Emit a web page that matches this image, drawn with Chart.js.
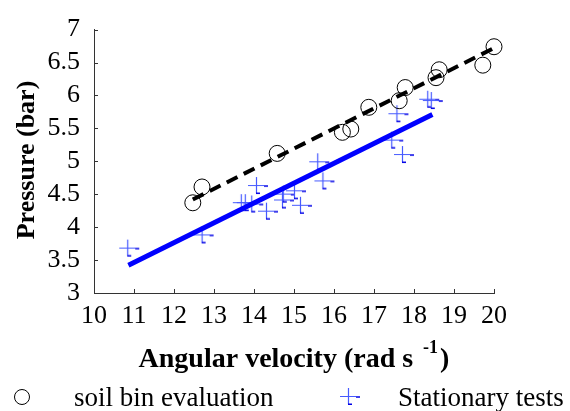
<!DOCTYPE html>
<html>
<head>
<meta charset="utf-8">
<script src="https://cdn.jsdelivr.net/npm/chart.js@4/dist/chart.umd.min.js"></script>
<style>
html,body{margin:0;padding:0;background:#fff;}
#wrap{width:570px;height:411px;position:relative;}
</style>
</head>
<body>
<div id="wrap"><canvas id="c" width="570" height="411"></canvas></div>
<script>
// ---- data ----
const soilX = [12.47, 12.70, 14.58, 16.21, 16.42, 16.87, 17.63, 17.78, 18.55, 18.63, 19.72, 20.00];
const soilY = [4.37, 4.61, 5.12, 5.44, 5.49, 5.82, 5.92, 6.12, 6.27, 6.39, 6.46, 6.74];
const statX = [10.83, 12.69, 13.67, 13.77, 13.93, 14.05, 14.30, 14.70, 14.72, 15.00, 15.15, 15.58, 15.71, 17.43, 17.56, 17.70, 18.33, 18.42];
const statY = [3.69, 3.89, 4.38, 4.38, 4.36, 4.64, 4.25, 4.42, 4.51, 4.56, 4.34, 5.00, 4.71, 5.33, 5.73, 5.11, 5.95, 5.93];
const soilFitX = [12.47, 20.00];
const soilFitY = [4.42, 6.72];
const statFitX = [10.86, 18.46];
const statFitY = [3.42, 5.71];
const xTicks = [10, 11, 12, 13, 14, 15, 16, 17, 18, 19, 20];
const yTicks = [3, 3.5, 4, 4.5, 5, 5.5, 6, 6.5, 7];
const seriesNames = ['soil bin evaluation', 'Stationary tests'];
const xTitle = 'Angular velocity (rad s';
const xTitleSup = '-1';
const yTitle = 'Pressure (bar)';

const pts = (xs, ys) => xs.map((x, i) => ({x: x, y: ys[i]}));

// custom MATLAB-like '+' marker
function makePlus() {
  const cv = document.createElement('canvas');
  cv.width = 28; cv.height = 28;
  const g = cv.getContext('2d');
  g.strokeStyle = 'rgb(70,90,255)';
  g.lineWidth = 1.2;
  g.beginPath();
  g.moveTo(6, 14.5); g.lineTo(22, 14.5);
  g.moveTo(14.5, 6); g.lineTo(14.5, 22);
  g.stroke();
  g.strokeStyle = 'rgb(0,0,230)';
  g.lineWidth = 1.6;
  g.beginPath();
  g.moveTo(22, 15); g.lineTo(26, 15);
  g.moveTo(14, 22.2); g.lineTo(18, 22.2);
  g.stroke();
  return cv;
}
const plusImg = makePlus();

const deco = {
  id: 'deco',
  afterDraw(chart) {
    const ctx = chart.ctx;
    const xs = chart.scales.x, ys = chart.scales.y;
    const ca = chart.chartArea;
    ctx.save();
    // inward ticks
    ctx.strokeStyle = '#333';
    ctx.lineWidth = 1;
    ctx.beginPath();
    xTicks.forEach(v => {
      const px = Math.round(xs.getPixelForValue(v)) + 0.5;
      ctx.moveTo(px, ca.bottom); ctx.lineTo(px, ca.bottom - 4);
    });
    yTicks.forEach(v => {
      const py = Math.round(ys.getPixelForValue(v)) + 0.5;
      ctx.moveTo(ca.left, py); ctx.lineTo(ca.left + 4, py);
    });
    ctx.stroke();

    ctx.fillStyle = '#000';
    // x title
    const bigF = 'bold 28px "Liberation Serif"';
    const supF = 'bold 18px "Liberation Serif"';
    ctx.font = bigF;
    ctx.textBaseline = 'alphabetic';
    ctx.textAlign = 'left';
    const w1 = ctx.measureText(xTitle).width;
    ctx.font = supF;
    const w2 = ctx.measureText(xTitleSup).width;
    ctx.font = bigF;
    const w3 = ctx.measureText(')').width;
    const gap = 10;
    const total = w1 + gap + w2 + 2 + w3;
    const cx = (ca.left + ca.right) / 2;
    let sx = cx - total / 2;
    const base = 367;
    ctx.fillText(xTitle, sx, base);
    ctx.font = supF;
    ctx.fillText(xTitleSup, sx + w1 + gap, base - 14);
    ctx.font = bigF;
    ctx.fillText(')', sx + w1 + gap + w2 + 2, base);

    // y title
    ctx.save();
    ctx.translate(27, 160);
    ctx.rotate(-Math.PI / 2);
    ctx.textAlign = 'center';
    ctx.textBaseline = 'middle';
    ctx.font = 'bold 26px "Liberation Serif"';
    ctx.fillText(yTitle, 0, 0);
    ctx.restore();

    // legend
    ctx.strokeStyle = '#000';
    ctx.lineWidth = 1;
    ctx.beginPath();
    ctx.arc(22, 397, 7.5, 0, Math.PI * 2);
    ctx.stroke();
    ctx.font = '27px "Liberation Serif"';
    ctx.textAlign = 'left';
    ctx.textBaseline = 'alphabetic';
    ctx.fillText(seriesNames[0], 74, 406);
    ctx.drawImage(plusImg, 348 - 14, 396 - 14);
    ctx.fillText(seriesNames[1], 398, 406);
    ctx.restore();
  }
};

new Chart(document.getElementById('c'), {
  type: 'scatter',
  data: {
    datasets: [
      {
        label: seriesNames[0] + ' fit', type: 'line', data: pts(soilFitX, soilFitY),
        borderColor: '#000', borderWidth: 4, borderDash: [12, 7], pointRadius: 0,
        fill: false, order: 0, clip: false
      },
      {
        label: seriesNames[1] + ' fit', type: 'line', data: pts(statFitX, statFitY),
        borderColor: '#0000ff', borderWidth: 5, pointRadius: 0,
        fill: false, order: 0, clip: false
      },
      {
        label: seriesNames[0], data: pts(soilX, soilY),
        pointStyle: 'circle', pointRadius: 8, borderColor: '#000', borderWidth: 1,
        backgroundColor: 'rgba(0,0,0,0)', order: 1, clip: false
      },
      {
        label: seriesNames[1], data: pts(statX, statY),
        pointStyle: plusImg, pointRadius: 8, order: 1, clip: false
      }
    ]
  },
  options: {
    responsive: false,
    animation: false,
    events: [],
    layout: {padding: {left: 0, top: 20, right: 76, bottom: 0}},
    plugins: {legend: {display: false}, tooltip: {enabled: false}},
    scales: {
      x: {
        type: 'linear', min: 10, max: 20,
        afterBuildTicks: s => { s.ticks = xTicks.map(v => ({value: v})); },
        afterFit: s => { s.height = 118; },
        grid: {display: false, drawTicks: false},
        border: {display: true, color: '#333', width: 1},
        ticks: {color: '#000', padding: 8, font: {family: 'Liberation Serif', size: 26}, maxRotation: 0, autoSkip: false,
                callback: v => String(v)}
      },
      y: {
        type: 'linear', min: 3, max: 7,
        afterBuildTicks: s => { s.ticks = yTicks.map(v => ({value: v})); },
        afterFit: s => { s.width = 94; },
        grid: {display: false, drawTicks: false},
        border: {display: true, color: '#333', width: 1},
        ticks: {color: '#000', padding: 14, font: {family: 'Liberation Serif', size: 26}, autoSkip: false,
                callback: v => String(v)}
      }
    }
  },
  plugins: [deco]
});
</script>
</body>
</html>
